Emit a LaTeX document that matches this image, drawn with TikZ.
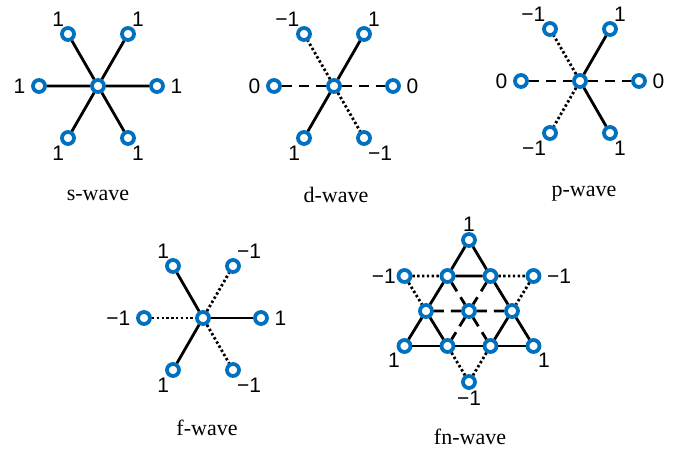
\documentclass[tikz,border=0pt]{standalone}
\usepackage{fontspec}
\setmainfont{Liberation Serif}
\newfontfamily\valfont{Liberation Sans}
\usetikzlibrary{positioning}
\definecolor{siteblue}{RGB}{0,112,192}

\begin{document}
\begin{tikzpicture}[
    x=1pt, y=-1pt,
    node distance=52pt and 30pt, on grid,
    site/.style={circle, draw=siteblue, fill=white, line width=3.8pt, minimum size=12pt, inner sep=0pt, label distance=2pt},
    lval/.style={label={[xshift=-5pt]left:#1}},
    rval/.style={label={[xshift=5pt]right:#1}},
    every label/.style={font=\valfont\fontsize{21}{25}\selectfont, inner sep=0.5pt},
    wavecap/.style={font=\fontsize{22}{26}\selectfont, inner sep=1pt},
    bond/.style={line width=2.8pt},
    bonddot/.style={bond, dash pattern=on 2.4pt off 2.4pt},
    bonddash/.style={bond, dash pattern=on 10pt off 7pt}
  ]
  \useasboundingbox (0,0) rectangle (693,454);

  % s-wave
  \node[site] (s0) at (98,86) {};
  \node[site, above left=of s0, label=115:1] (s1) {};
  \node[site, above right=of s0, label=65:1] (s2) {};
  \node[site, left=59pt of s0, lval=1] (s3) {};
  \node[site, right=59pt of s0, rval=1] (s4) {};
  \node[site, below left=of s0, label=245:1] (s5) {};
  \node[site, below right=of s0, label=295:1] (s6) {};
  \draw[bond] (s0) -- (s1) (s0) -- (s2) (s3) -- (s0) (s0) -- (s4) (s0) -- (s5) (s0) -- (s6);
  \node[wavecap] (scap) at (98,195) {s-wave};

  % d-wave
  \node[site] (d0) at (334,86) {};
  \node[site, above left=of d0, label=120:−1] (d1) {};
  \node[site, above right=of d0, label=65:1] (d2) {};
  \node[site, left=60pt of d0, lval=0] (d3) {};
  \node[site, right=59pt of d0, rval=0] (d4) {};
  \node[site, below left=of d0, label=245:1] (d5) {};
  \node[site, below right=of d0, label=295:−1] (d6) {};
  \draw[bonddot] (d0) -- (d1);
  \draw[bond] (d0) -- (d2);
  \draw[bonddash] (d3) -- (d0);
  \draw[bonddash] (d0) -- (d4);
  \draw[bond] (d0) -- (d5);
  \draw[bonddot] (d0) -- (d6);
  \node[wavecap] (dcap) at (336,195) {d-wave};

  % p-wave
  \node[site] (p0) at (580,81) {};
  \node[site, above left=of p0, label=120:−1] (p1) {};
  \node[site, above right=of p0, label=65:1] (p2) {};
  \node[site, left=59pt of p0, lval=0] (p3) {};
  \node[site, right=59pt of p0, rval=0] (p4) {};
  \node[site, below left=of p0, label=245:−1] (p5) {};
  \node[site, below right=of p0, label=295:1] (p6) {};
  \draw[bonddot] (p0) -- (p1);
  \draw[bond] (p0) -- (p2);
  \draw[bonddash] (p3) -- (p0);
  \draw[bonddash] (p0) -- (p4);
  \draw[bonddot] (p0) -- (p5);
  \draw[bond] (p0) -- (p6);
  \node[wavecap] (pcap) at (584,194) {p-wave};

  % f-wave
  \node[site] (f0) at (203,318) {};
  \node[site, above left=of f0, label=115:1] (f1) {};
  \node[site, above right=of f0, label=65:−1] (f2) {};
  \node[site, left=59pt of f0, lval=−1] (f3) {};
  \node[site, right=58pt of f0, rval=1] (f4) {};
  \node[site, below left=of f0, label=245:1] (f5) {};
  \node[site, below right=of f0, label=295:−1] (f6) {};
  \draw[bond] (f0) -- (f1);
  \draw[bonddot] (f0) -- (f2);
  \draw[bonddot] (f3) -- (f0);
  \draw[bond] (f0) -- (f4);
  \draw[bond] (f0) -- (f5);
  \draw[bonddot] (f0) -- (f6);
  \node[wavecap] (fcap) at (207,428) {f-wave};

  % fn-wave (star of David)
  \node[site] (nb2) at (469,311) {};
  \node[site, left=43pt of nb2] (nb1) {};
  \node[site, right=43pt of nb2] (nb3) {};
  \node[site, above left=35pt and 21.5pt of nb2] (na2) {};
  \node[site, above right=35pt and 21.5pt of nb2] (na3) {};
  \node[site, left=43pt of na2, label=left:−1] (na1) {};
  \node[site, right=43pt of na3, rval=−1] (na4) {};
  \node[site, above=71pt of nb2, label=above:1] (nt) {};
  \node[site, below left=35pt and 21.5pt of nb2] (nc2) {};
  \node[site, below right=35pt and 21.5pt of nb2] (nc3) {};
  \node[site, left=43pt of nc2, label=240:1] (nc1) {};
  \node[site, right=43pt of nc3, label=300:1] (nc4) {};
  \node[site, below=71pt of nb2, label=below:−1] (nbot) {};
  \draw[bond] (nt) -- (na2) (nt) -- (na3) (na2) -- (na3);
  \draw[bond] (na2) -- (nb1) (na3) -- (nb3);
  \draw[bond] (nb1) -- (nc1) (nb1) -- (nc2) (nb3) -- (nc3) (nb3) -- (nc4);
  \draw[bond] (nc1) -- (nc2) (nc2) -- (nc3) (nc3) -- (nc4);
  \draw[bonddot] (na1) -- (na2) (na3) -- (na4) (na1) -- (nb1) (na4) -- (nb3);
  \draw[bonddot] (nc2) -- (nbot) (nc3) -- (nbot);
  \draw[bonddash] (na2) -- (nb2) (na3) -- (nb2) (nb1) -- (nb2) (nb2) -- (nb3);
  \draw[bonddash] (nb2) -- (nc2) (nb2) -- (nc3);
  \node[wavecap] (ncap) at (470,437) {fn-wave};
\end{tikzpicture}
\end{document}
